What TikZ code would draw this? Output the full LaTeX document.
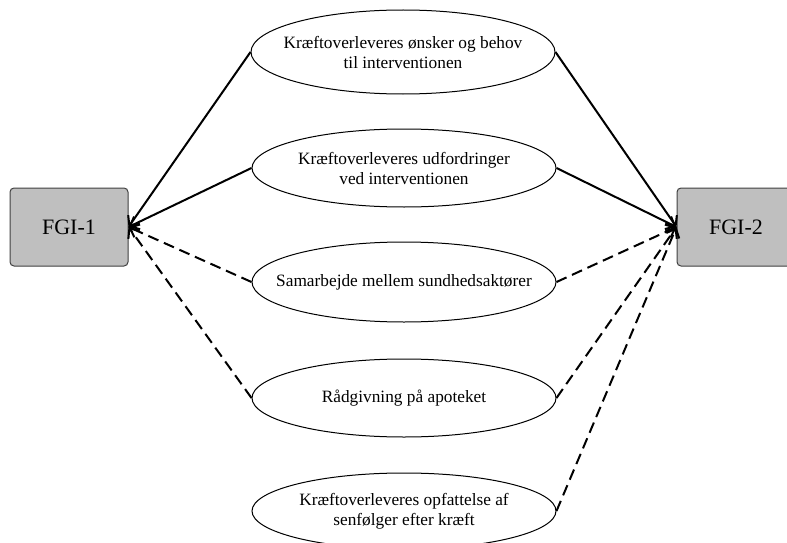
\documentclass[tikz,border=0pt]{standalone}
\usepackage{fontspec}
\setmainfont{Liberation Serif}
\usetikzlibrary{shapes.geometric,arrows.meta}
\begin{document}
\begin{tikzpicture}[x=1pt,y=-1pt,
  oval/.style={draw=black,line width=1pt,ellipse,minimum width=304pt,minimum height=#1,inner sep=0pt},
  txt/.style={align=center,font=\fontsize{17.3}{20}\selectfont,inner sep=0pt},
  fgi/.style={draw=black!75,line width=1pt,fill=black!25,rounded corners=4pt,minimum width=118pt,minimum height=78pt,font=\fontsize{22}{26}\selectfont,inner sep=0pt},
  link/.style={line width=2pt,-{Straight Barb[length=8pt,width=14pt,line width=2pt]}},
  dlink/.style={link,dash pattern=on 11pt off 6pt}]
\useasboundingbox (0,0) rectangle (787,543);
\begin{scope}
\clip (0,0) rectangle (787,543);
\node[fgi] (f1) at (69,227) {FGI-1};
\node[fgi] (f2) at (736,227) {FGI-2};
\node[oval=84pt] (e1) at (403,52) {};
\node[oval=78pt] (e2) at (404,168) {};
\node[oval=80pt] (e3) at (404,282) {};
\node[oval=78pt] (e4) at (404,398) {};
\node[oval=76pt] (e5) at (404,511) {};
\node[txt] (t1) at (e1) {Kræftoverleveres ønsker og behov\\til interventionen};
\node[txt] (t2) at (e2) {Kræftoverleveres udfordringer\\ved interventionen};
\node[txt] (t3) at (e3) {Samarbejde mellem sundhedsaktører};
\node[txt] (t4) at (e4) {Rådgivning på apoteket};
\node[txt] (t5) at (e5) {Kræftoverleveres opfattelse af\\senfølger efter kræft};
\draw[link] (e1.west) -- (f1.east);
\draw[link] (e2.west) -- (f1.east);
\draw[dlink] (e3.west) -- (f1.east);
\draw[dlink] (e4.west) -- (f1.east);
\draw[link] (e1.east) -- (f2.west);
\draw[link] (e2.east) -- (f2.west);
\draw[dlink] (e3.east) -- (f2.west);
\draw[dlink] (e4.east) -- (f2.west);
\draw[dlink] (e5.east) -- (f2.west);
\end{scope}
\end{tikzpicture}
\end{document}
